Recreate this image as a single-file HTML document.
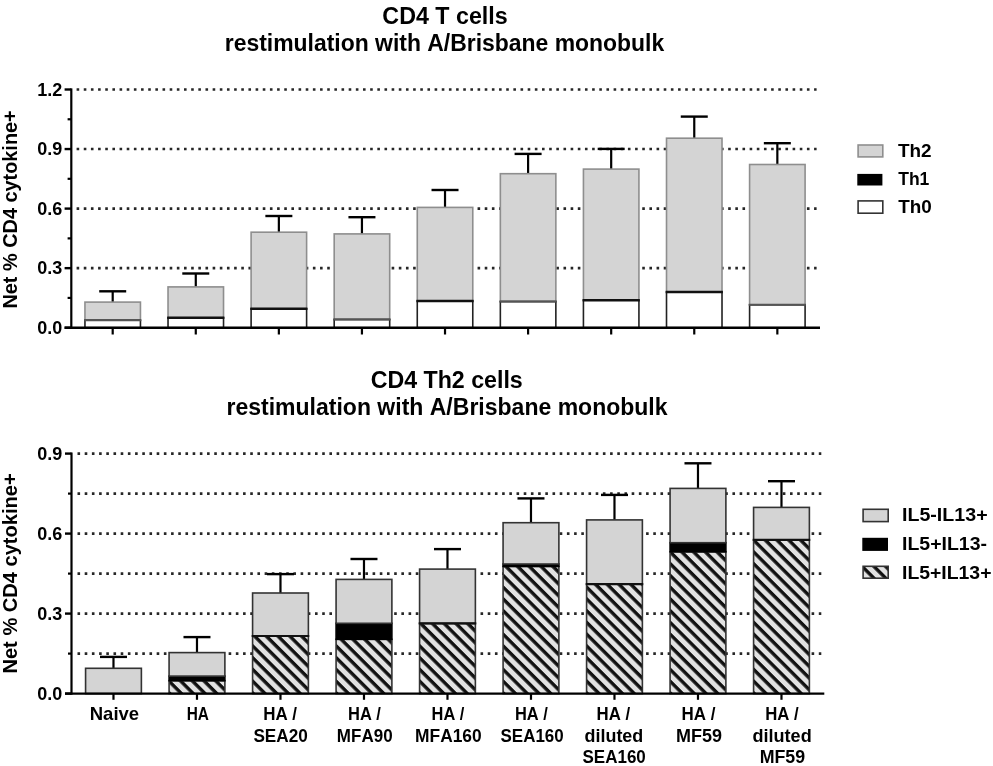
<!DOCTYPE html>
<html><head><meta charset="utf-8"><title>CD4 T cells</title>
<style>
html,body{margin:0;padding:0;background:#fff;}
body{width:993px;height:766px;overflow:hidden;}
svg{display:block;will-change:transform;}
text{font-family:"Liberation Sans", sans-serif;font-weight:bold;fill:#000;font-kerning:none;}
</style></head><body>
<svg width="993" height="766" viewBox="0 0 993 766">
<rect x="0" y="0" width="993" height="766" fill="#fff"/>

<text x="382.35" y="24.40" font-size="23" textLength="125.31" lengthAdjust="spacingAndGlyphs">CD4 T cells</text>
<text x="224.79" y="50.60" font-size="23" textLength="439.39" lengthAdjust="spacingAndGlyphs">restimulation with A/Brisbane monobulk</text>
<text transform="translate(17.40,308.53) rotate(-90)" x="0" y="0" font-size="19.8" textLength="198.23" lengthAdjust="spacingAndGlyphs">Net % CD4 cytokine+</text>
<line x1="76.60" y1="89.50" x2="816.60" y2="89.50" stroke="#262626" stroke-width="2.6" stroke-dasharray="2.6 4.560"/>
<line x1="76.60" y1="149.05" x2="816.60" y2="149.05" stroke="#262626" stroke-width="2.6" stroke-dasharray="2.6 4.560"/>
<line x1="76.60" y1="208.60" x2="816.60" y2="208.60" stroke="#262626" stroke-width="2.6" stroke-dasharray="2.6 4.560"/>
<line x1="76.60" y1="268.15" x2="816.60" y2="268.15" stroke="#262626" stroke-width="2.6" stroke-dasharray="2.6 4.560"/>
<line x1="112.70" y1="291.30" x2="112.70" y2="302.10" stroke="#000" stroke-width="2.2"/>
<line x1="99.20" y1="291.30" x2="126.20" y2="291.30" stroke="#000" stroke-width="2.4"/>
<rect x="84.95" y="302.10" width="55.50" height="18.10" fill="#d4d4d4" stroke="#8e8e8e" stroke-width="1.6"/>
<rect x="84.95" y="320.20" width="55.50" height="7.50" fill="#fff" stroke="#222" stroke-width="1.6"/>
<line x1="84.15" y1="320.20" x2="141.25" y2="320.20" stroke="#555" stroke-width="2.0"/>
<line x1="195.78" y1="273.50" x2="195.78" y2="286.90" stroke="#000" stroke-width="2.2"/>
<line x1="182.28" y1="273.50" x2="209.28" y2="273.50" stroke="#000" stroke-width="2.4"/>
<rect x="168.03" y="286.90" width="55.50" height="30.90" fill="#d4d4d4" stroke="#8e8e8e" stroke-width="1.6"/>
<rect x="168.03" y="317.80" width="55.50" height="9.90" fill="#fff" stroke="#222" stroke-width="1.6"/>
<line x1="167.23" y1="317.80" x2="224.33" y2="317.80" stroke="#111" stroke-width="2.4"/>
<line x1="278.86" y1="216.00" x2="278.86" y2="232.20" stroke="#000" stroke-width="2.2"/>
<line x1="265.36" y1="216.00" x2="292.36" y2="216.00" stroke="#000" stroke-width="2.4"/>
<rect x="251.11" y="232.20" width="55.50" height="76.60" fill="#d4d4d4" stroke="#8e8e8e" stroke-width="1.6"/>
<rect x="251.11" y="308.80" width="55.50" height="18.90" fill="#fff" stroke="#222" stroke-width="1.6"/>
<line x1="250.31" y1="308.80" x2="307.41" y2="308.80" stroke="#111" stroke-width="2.4"/>
<line x1="361.94" y1="217.20" x2="361.94" y2="233.90" stroke="#000" stroke-width="2.2"/>
<line x1="348.44" y1="217.20" x2="375.44" y2="217.20" stroke="#000" stroke-width="2.4"/>
<rect x="334.19" y="233.90" width="55.50" height="85.60" fill="#d4d4d4" stroke="#8e8e8e" stroke-width="1.6"/>
<rect x="334.19" y="319.50" width="55.50" height="8.20" fill="#fff" stroke="#222" stroke-width="1.6"/>
<line x1="333.39" y1="319.50" x2="390.49" y2="319.50" stroke="#555" stroke-width="2.0"/>
<line x1="445.02" y1="190.00" x2="445.02" y2="207.40" stroke="#000" stroke-width="2.2"/>
<line x1="431.52" y1="190.00" x2="458.52" y2="190.00" stroke="#000" stroke-width="2.4"/>
<rect x="417.27" y="207.40" width="55.50" height="93.60" fill="#d4d4d4" stroke="#8e8e8e" stroke-width="1.6"/>
<rect x="417.27" y="301.00" width="55.50" height="26.70" fill="#fff" stroke="#222" stroke-width="1.6"/>
<line x1="416.47" y1="301.00" x2="473.57" y2="301.00" stroke="#111" stroke-width="2.4"/>
<line x1="528.10" y1="153.90" x2="528.10" y2="173.70" stroke="#000" stroke-width="2.2"/>
<line x1="514.60" y1="153.90" x2="541.60" y2="153.90" stroke="#000" stroke-width="2.4"/>
<rect x="500.35" y="173.70" width="55.50" height="127.90" fill="#d4d4d4" stroke="#8e8e8e" stroke-width="1.6"/>
<rect x="500.35" y="301.60" width="55.50" height="26.10" fill="#fff" stroke="#222" stroke-width="1.6"/>
<line x1="499.55" y1="301.60" x2="556.65" y2="301.60" stroke="#555" stroke-width="2.0"/>
<line x1="611.18" y1="148.90" x2="611.18" y2="169.10" stroke="#000" stroke-width="2.2"/>
<line x1="597.68" y1="148.90" x2="624.68" y2="148.90" stroke="#000" stroke-width="2.4"/>
<rect x="583.43" y="169.10" width="55.50" height="131.10" fill="#d4d4d4" stroke="#8e8e8e" stroke-width="1.6"/>
<rect x="583.43" y="300.20" width="55.50" height="27.50" fill="#fff" stroke="#222" stroke-width="1.6"/>
<line x1="582.63" y1="300.20" x2="639.73" y2="300.20" stroke="#111" stroke-width="2.4"/>
<line x1="694.26" y1="116.60" x2="694.26" y2="138.20" stroke="#000" stroke-width="2.2"/>
<line x1="680.76" y1="116.60" x2="707.76" y2="116.60" stroke="#000" stroke-width="2.4"/>
<rect x="666.51" y="138.20" width="55.50" height="153.80" fill="#d4d4d4" stroke="#8e8e8e" stroke-width="1.6"/>
<rect x="666.51" y="292.00" width="55.50" height="35.70" fill="#fff" stroke="#222" stroke-width="1.6"/>
<line x1="665.71" y1="292.00" x2="722.81" y2="292.00" stroke="#111" stroke-width="2.4"/>
<line x1="777.34" y1="143.20" x2="777.34" y2="164.50" stroke="#000" stroke-width="2.2"/>
<line x1="763.84" y1="143.20" x2="790.84" y2="143.20" stroke="#000" stroke-width="2.4"/>
<rect x="749.59" y="164.50" width="55.50" height="140.30" fill="#d4d4d4" stroke="#8e8e8e" stroke-width="1.6"/>
<rect x="749.59" y="304.80" width="55.50" height="22.90" fill="#fff" stroke="#222" stroke-width="1.6"/>
<line x1="748.79" y1="304.80" x2="805.89" y2="304.80" stroke="#555" stroke-width="2.0"/>
<line x1="71.3" y1="88.40" x2="71.3" y2="328.70" stroke="#000" stroke-width="2.2"/>
<line x1="64.6" y1="89.50" x2="71.3" y2="89.50" stroke="#000" stroke-width="2.4"/>
<line x1="64.6" y1="149.05" x2="71.3" y2="149.05" stroke="#000" stroke-width="2.4"/>
<line x1="64.6" y1="208.60" x2="71.3" y2="208.60" stroke="#000" stroke-width="2.4"/>
<line x1="64.6" y1="268.15" x2="71.3" y2="268.15" stroke="#000" stroke-width="2.4"/>
<line x1="64.6" y1="327.70" x2="71.3" y2="327.70" stroke="#000" stroke-width="2.4"/>
<line x1="67.6" y1="119.27" x2="71.3" y2="119.27" stroke="#000" stroke-width="2.2"/>
<line x1="67.6" y1="178.82" x2="71.3" y2="178.82" stroke="#000" stroke-width="2.2"/>
<line x1="67.6" y1="238.38" x2="71.3" y2="238.38" stroke="#000" stroke-width="2.2"/>
<line x1="67.6" y1="297.93" x2="71.3" y2="297.93" stroke="#000" stroke-width="2.2"/>
<line x1="64.6" y1="327.70" x2="820" y2="327.70" stroke="#000" stroke-width="2.4"/>
<line x1="112.70" y1="327.70" x2="112.70" y2="334.50" stroke="#000" stroke-width="2.2"/>
<line x1="195.78" y1="327.70" x2="195.78" y2="334.50" stroke="#000" stroke-width="2.2"/>
<line x1="278.86" y1="327.70" x2="278.86" y2="334.50" stroke="#000" stroke-width="2.2"/>
<line x1="361.94" y1="327.70" x2="361.94" y2="334.50" stroke="#000" stroke-width="2.2"/>
<line x1="445.02" y1="327.70" x2="445.02" y2="334.50" stroke="#000" stroke-width="2.2"/>
<line x1="528.10" y1="327.70" x2="528.10" y2="334.50" stroke="#000" stroke-width="2.2"/>
<line x1="611.18" y1="327.70" x2="611.18" y2="334.50" stroke="#000" stroke-width="2.2"/>
<line x1="694.26" y1="327.70" x2="694.26" y2="334.50" stroke="#000" stroke-width="2.2"/>
<line x1="777.34" y1="327.70" x2="777.34" y2="334.50" stroke="#000" stroke-width="2.2"/>
<text x="62.3" y="95.60" font-size="18" text-anchor="end">1.2</text>
<text x="62.3" y="155.15" font-size="18" text-anchor="end">0.9</text>
<text x="62.3" y="214.70" font-size="18" text-anchor="end">0.6</text>
<text x="62.3" y="274.25" font-size="18" text-anchor="end">0.3</text>
<text x="62.3" y="333.80" font-size="18" text-anchor="end">0.0</text>
<rect x="858.10" y="145.00" width="24.70" height="11.90" fill="#d4d4d4" stroke="#8e8e8e" stroke-width="1.6"/>
<rect x="858.10" y="174.70" width="23.50" height="10.00" fill="#000" stroke="#000" stroke-width="1.6"/>
<rect x="858.10" y="200.90" width="24.70" height="12.30" fill="#fff" stroke="#333" stroke-width="1.6"/>
<text x="897.99" y="157.40" font-size="19.2" textLength="33.67" lengthAdjust="spacingAndGlyphs">Th2</text>
<text x="898.20" y="185.40" font-size="19.2" textLength="31.19" lengthAdjust="spacingAndGlyphs">Th1</text>
<text x="898.19" y="212.90" font-size="19.2" textLength="33.59" lengthAdjust="spacingAndGlyphs">Th0</text>
<text x="370.65" y="387.90" font-size="23" textLength="152.10" lengthAdjust="spacingAndGlyphs">CD4 Th2 cells</text>
<text x="226.48" y="414.80" font-size="23" textLength="441.09" lengthAdjust="spacingAndGlyphs">restimulation with A/Brisbane monobulk</text>
<text transform="translate(17.20,673.54) rotate(-90)" x="0" y="0" font-size="19.8" textLength="200.26" lengthAdjust="spacingAndGlyphs">Net % CD4 cytokine+</text>
<line x1="77.50" y1="453.60" x2="821.30" y2="453.60" stroke="#262626" stroke-width="2.6" stroke-dasharray="2.6 4.597"/>
<line x1="77.50" y1="493.60" x2="821.30" y2="493.60" stroke="#262626" stroke-width="2.6" stroke-dasharray="2.6 4.597"/>
<line x1="77.50" y1="533.60" x2="821.30" y2="533.60" stroke="#262626" stroke-width="2.6" stroke-dasharray="2.6 4.597"/>
<line x1="77.50" y1="573.60" x2="821.30" y2="573.60" stroke="#262626" stroke-width="2.6" stroke-dasharray="2.6 4.597"/>
<line x1="77.50" y1="613.60" x2="821.30" y2="613.60" stroke="#262626" stroke-width="2.6" stroke-dasharray="2.6 4.597"/>
<line x1="77.50" y1="653.60" x2="821.30" y2="653.60" stroke="#262626" stroke-width="2.6" stroke-dasharray="2.6 4.597"/>
<line x1="113.48" y1="656.90" x2="113.48" y2="668.30" stroke="#000" stroke-width="2.2"/>
<line x1="99.98" y1="656.90" x2="126.98" y2="656.90" stroke="#000" stroke-width="2.4"/>
<rect x="85.58" y="668.30" width="55.80" height="25.30" fill="#d4d4d4" stroke="#333" stroke-width="1.6"/>
<line x1="196.98" y1="637.10" x2="196.98" y2="652.60" stroke="#000" stroke-width="2.2"/>
<line x1="183.48" y1="637.10" x2="210.48" y2="637.10" stroke="#000" stroke-width="2.4"/>
<rect x="169.08" y="680.70" width="55.80" height="12.90" fill="url(#h1)" stroke="#333" stroke-width="1.6"/>
<rect x="169.08" y="676.10" width="55.80" height="4.60" fill="#000" stroke="#000" stroke-width="1.6"/>
<rect x="169.08" y="652.60" width="55.80" height="23.50" fill="#d4d4d4" stroke="#333" stroke-width="1.6"/>
<line x1="280.48" y1="574.10" x2="280.48" y2="593.00" stroke="#000" stroke-width="2.2"/>
<line x1="266.98" y1="574.10" x2="293.98" y2="574.10" stroke="#000" stroke-width="2.4"/>
<rect x="252.58" y="636.00" width="55.80" height="57.60" fill="url(#h2)" stroke="#333" stroke-width="1.6"/>
<rect x="252.58" y="593.00" width="55.80" height="43.00" fill="#d4d4d4" stroke="#333" stroke-width="1.6"/>
<line x1="251.78" y1="636.00" x2="309.18" y2="636.00" stroke="#111" stroke-width="2.2"/>
<line x1="363.98" y1="559.00" x2="363.98" y2="579.40" stroke="#000" stroke-width="2.2"/>
<line x1="350.48" y1="559.00" x2="377.48" y2="559.00" stroke="#000" stroke-width="2.4"/>
<rect x="336.08" y="639.30" width="55.80" height="54.30" fill="url(#h3)" stroke="#333" stroke-width="1.6"/>
<rect x="336.08" y="623.30" width="55.80" height="16.00" fill="#000" stroke="#000" stroke-width="1.6"/>
<rect x="336.08" y="579.40" width="55.80" height="43.90" fill="#d4d4d4" stroke="#333" stroke-width="1.6"/>
<line x1="447.48" y1="549.10" x2="447.48" y2="569.10" stroke="#000" stroke-width="2.2"/>
<line x1="433.98" y1="549.10" x2="460.98" y2="549.10" stroke="#000" stroke-width="2.4"/>
<rect x="419.58" y="623.40" width="55.80" height="70.20" fill="url(#h4)" stroke="#333" stroke-width="1.6"/>
<rect x="419.58" y="569.10" width="55.80" height="54.30" fill="#d4d4d4" stroke="#333" stroke-width="1.6"/>
<line x1="418.78" y1="623.40" x2="476.18" y2="623.40" stroke="#111" stroke-width="2.2"/>
<line x1="530.98" y1="498.40" x2="530.98" y2="522.70" stroke="#000" stroke-width="2.2"/>
<line x1="517.48" y1="498.40" x2="544.48" y2="498.40" stroke="#000" stroke-width="2.4"/>
<rect x="503.08" y="566.40" width="55.80" height="127.20" fill="url(#h5)" stroke="#333" stroke-width="1.6"/>
<rect x="503.08" y="564.00" width="55.80" height="2.40" fill="#000" stroke="#000" stroke-width="1.6"/>
<rect x="503.08" y="522.70" width="55.80" height="41.30" fill="#d4d4d4" stroke="#333" stroke-width="1.6"/>
<line x1="614.48" y1="494.90" x2="614.48" y2="519.90" stroke="#000" stroke-width="2.2"/>
<line x1="600.98" y1="494.90" x2="627.98" y2="494.90" stroke="#000" stroke-width="2.4"/>
<rect x="586.58" y="584.10" width="55.80" height="109.50" fill="url(#h6)" stroke="#333" stroke-width="1.6"/>
<rect x="586.58" y="519.90" width="55.80" height="64.20" fill="#d4d4d4" stroke="#333" stroke-width="1.6"/>
<line x1="585.78" y1="584.10" x2="643.18" y2="584.10" stroke="#111" stroke-width="2.2"/>
<line x1="697.98" y1="463.30" x2="697.98" y2="488.40" stroke="#000" stroke-width="2.2"/>
<line x1="684.48" y1="463.30" x2="711.48" y2="463.30" stroke="#000" stroke-width="2.4"/>
<rect x="670.08" y="551.80" width="55.80" height="141.80" fill="url(#h7)" stroke="#333" stroke-width="1.6"/>
<rect x="670.08" y="542.70" width="55.80" height="9.10" fill="#000" stroke="#000" stroke-width="1.6"/>
<rect x="670.08" y="488.40" width="55.80" height="54.30" fill="#d4d4d4" stroke="#333" stroke-width="1.6"/>
<line x1="781.48" y1="481.20" x2="781.48" y2="507.40" stroke="#000" stroke-width="2.2"/>
<line x1="767.98" y1="481.20" x2="794.98" y2="481.20" stroke="#000" stroke-width="2.4"/>
<rect x="753.58" y="539.90" width="55.80" height="153.70" fill="url(#h8)" stroke="#333" stroke-width="1.6"/>
<rect x="753.58" y="507.40" width="55.80" height="32.50" fill="#d4d4d4" stroke="#333" stroke-width="1.6"/>
<line x1="752.78" y1="539.90" x2="810.18" y2="539.90" stroke="#111" stroke-width="2.2"/>
<line x1="71.5" y1="452.50" x2="71.5" y2="694.60" stroke="#000" stroke-width="2.2"/>
<line x1="65.0" y1="453.60" x2="71.5" y2="453.60" stroke="#000" stroke-width="2.4"/>
<line x1="65.0" y1="533.60" x2="71.5" y2="533.60" stroke="#000" stroke-width="2.4"/>
<line x1="65.0" y1="613.60" x2="71.5" y2="613.60" stroke="#000" stroke-width="2.4"/>
<line x1="65.0" y1="693.60" x2="71.5" y2="693.60" stroke="#000" stroke-width="2.4"/>
<line x1="68.0" y1="493.60" x2="71.5" y2="493.60" stroke="#000" stroke-width="2.2"/>
<line x1="68.0" y1="573.60" x2="71.5" y2="573.60" stroke="#000" stroke-width="2.2"/>
<line x1="68.0" y1="653.60" x2="71.5" y2="653.60" stroke="#000" stroke-width="2.2"/>
<line x1="65.0" y1="693.60" x2="824.3" y2="693.60" stroke="#000" stroke-width="2.4"/>
<line x1="113.48" y1="693.60" x2="113.48" y2="699.80" stroke="#000" stroke-width="2.2"/>
<line x1="196.98" y1="693.60" x2="196.98" y2="699.80" stroke="#000" stroke-width="2.2"/>
<line x1="280.48" y1="693.60" x2="280.48" y2="699.80" stroke="#000" stroke-width="2.2"/>
<line x1="363.98" y1="693.60" x2="363.98" y2="699.80" stroke="#000" stroke-width="2.2"/>
<line x1="447.48" y1="693.60" x2="447.48" y2="699.80" stroke="#000" stroke-width="2.2"/>
<line x1="530.98" y1="693.60" x2="530.98" y2="699.80" stroke="#000" stroke-width="2.2"/>
<line x1="614.48" y1="693.60" x2="614.48" y2="699.80" stroke="#000" stroke-width="2.2"/>
<line x1="697.98" y1="693.60" x2="697.98" y2="699.80" stroke="#000" stroke-width="2.2"/>
<line x1="781.48" y1="693.60" x2="781.48" y2="699.80" stroke="#000" stroke-width="2.2"/>
<text x="62.3" y="459.70" font-size="18" text-anchor="end">0.9</text>
<text x="62.3" y="539.70" font-size="18" text-anchor="end">0.6</text>
<text x="62.3" y="619.70" font-size="18" text-anchor="end">0.3</text>
<text x="62.3" y="699.70" font-size="18" text-anchor="end">0.0</text>
<rect x="863.10" y="509.30" width="25.10" height="12.30" fill="#d4d4d4" stroke="#333" stroke-width="1.6"/>
<rect x="863.10" y="538.60" width="24.10" height="11.50" fill="#000" stroke="#000" stroke-width="1.6"/>
<rect x="863.10" y="566.30" width="25.10" height="11.90" fill="url(#hl)" stroke="#333" stroke-width="1.6"/>
<text x="901.99" y="521.30" font-size="19.2" textLength="85.61" lengthAdjust="spacingAndGlyphs">IL5-IL13+</text>
<text x="902.00" y="550.40" font-size="19.2" textLength="84.98" lengthAdjust="spacingAndGlyphs">IL5+IL13-</text>
<text x="902.00" y="578.70" font-size="19.2" textLength="89.48" lengthAdjust="spacingAndGlyphs">IL5+IL13+</text>
<text x="89.76" y="720.00" font-size="18.4" textLength="49.37" lengthAdjust="spacingAndGlyphs">Naive</text>
<text x="186.67" y="720.00" font-size="18.4" textLength="22.24" lengthAdjust="spacingAndGlyphs">HA</text>
<text x="263.17" y="720.00" font-size="18.4" textLength="33.90" lengthAdjust="spacingAndGlyphs">HA /</text>
<text x="253.41" y="742.10" font-size="18.4" textLength="54.40" lengthAdjust="spacingAndGlyphs">SEA20</text>
<text x="348.00" y="720.00" font-size="18.4" textLength="32.96" lengthAdjust="spacingAndGlyphs">HA /</text>
<text x="336.86" y="742.10" font-size="18.4" textLength="55.73" lengthAdjust="spacingAndGlyphs">MFA90</text>
<text x="431.60" y="720.00" font-size="18.4" textLength="32.76" lengthAdjust="spacingAndGlyphs">HA /</text>
<text x="415.04" y="742.10" font-size="18.4" textLength="66.68" lengthAdjust="spacingAndGlyphs">MFA160</text>
<text x="515.00" y="720.00" font-size="18.4" textLength="32.86" lengthAdjust="spacingAndGlyphs">HA /</text>
<text x="500.51" y="742.10" font-size="18.4" textLength="63.18" lengthAdjust="spacingAndGlyphs">SEA160</text>
<text x="596.58" y="720.00" font-size="18.4" textLength="33.59" lengthAdjust="spacingAndGlyphs">HA /</text>
<text x="584.57" y="742.10" font-size="18.4" textLength="58.72" lengthAdjust="spacingAndGlyphs">diluted</text>
<text x="582.51" y="762.50" font-size="18.4" textLength="63.29" lengthAdjust="spacingAndGlyphs">SEA160</text>
<text x="681.47" y="720.00" font-size="18.4" textLength="33.90" lengthAdjust="spacingAndGlyphs">HA /</text>
<text x="676.10" y="742.10" font-size="18.4" textLength="45.97" lengthAdjust="spacingAndGlyphs">MF59</text>
<text x="765.28" y="720.00" font-size="18.4" textLength="33.48" lengthAdjust="spacingAndGlyphs">HA /</text>
<text x="752.46" y="742.10" font-size="18.4" textLength="59.23" lengthAdjust="spacingAndGlyphs">diluted</text>
<text x="759.71" y="762.50" font-size="18.4" textLength="45.45" lengthAdjust="spacingAndGlyphs">MF59</text>
<defs><pattern id="h1" patternUnits="userSpaceOnUse" width="8.31" height="8.31" patternTransform="translate(169.08,693.60) rotate(45) translate(0,-2.20)"><rect x="-1" y="-1" width="10.31" height="10.31" fill="#e2e2e2"/><rect x="-1" y="0" width="10.31" height="3.4" fill="#111"/></pattern><pattern id="h2" patternUnits="userSpaceOnUse" width="8.31" height="8.31" patternTransform="translate(252.58,693.60) rotate(45) translate(0,-2.20)"><rect x="-1" y="-1" width="10.31" height="10.31" fill="#e2e2e2"/><rect x="-1" y="0" width="10.31" height="3.4" fill="#111"/></pattern><pattern id="h3" patternUnits="userSpaceOnUse" width="8.31" height="8.31" patternTransform="translate(336.08,693.60) rotate(45) translate(0,-2.20)"><rect x="-1" y="-1" width="10.31" height="10.31" fill="#e2e2e2"/><rect x="-1" y="0" width="10.31" height="3.4" fill="#111"/></pattern><pattern id="h4" patternUnits="userSpaceOnUse" width="8.31" height="8.31" patternTransform="translate(419.58,693.60) rotate(45) translate(0,-2.20)"><rect x="-1" y="-1" width="10.31" height="10.31" fill="#e2e2e2"/><rect x="-1" y="0" width="10.31" height="3.4" fill="#111"/></pattern><pattern id="h5" patternUnits="userSpaceOnUse" width="8.31" height="8.31" patternTransform="translate(503.08,693.60) rotate(45) translate(0,-2.20)"><rect x="-1" y="-1" width="10.31" height="10.31" fill="#e2e2e2"/><rect x="-1" y="0" width="10.31" height="3.4" fill="#111"/></pattern><pattern id="h6" patternUnits="userSpaceOnUse" width="8.31" height="8.31" patternTransform="translate(586.58,693.60) rotate(45) translate(0,-2.20)"><rect x="-1" y="-1" width="10.31" height="10.31" fill="#e2e2e2"/><rect x="-1" y="0" width="10.31" height="3.4" fill="#111"/></pattern><pattern id="h7" patternUnits="userSpaceOnUse" width="8.31" height="8.31" patternTransform="translate(670.08,693.60) rotate(45) translate(0,-2.20)"><rect x="-1" y="-1" width="10.31" height="10.31" fill="#e2e2e2"/><rect x="-1" y="0" width="10.31" height="3.4" fill="#111"/></pattern><pattern id="h8" patternUnits="userSpaceOnUse" width="8.31" height="8.31" patternTransform="translate(753.58,693.60) rotate(45) translate(0,-2.20)"><rect x="-1" y="-1" width="10.31" height="10.31" fill="#e2e2e2"/><rect x="-1" y="0" width="10.31" height="3.4" fill="#111"/></pattern><pattern id="hl" patternUnits="userSpaceOnUse" width="8.31" height="8.31" patternTransform="translate(862.30,579.00) rotate(45) translate(0,-2.20)"><rect x="-1" y="-1" width="10.31" height="10.31" fill="#e2e2e2"/><rect x="-1" y="0" width="10.31" height="3.4" fill="#111"/></pattern></defs>
</svg>
</body></html>
